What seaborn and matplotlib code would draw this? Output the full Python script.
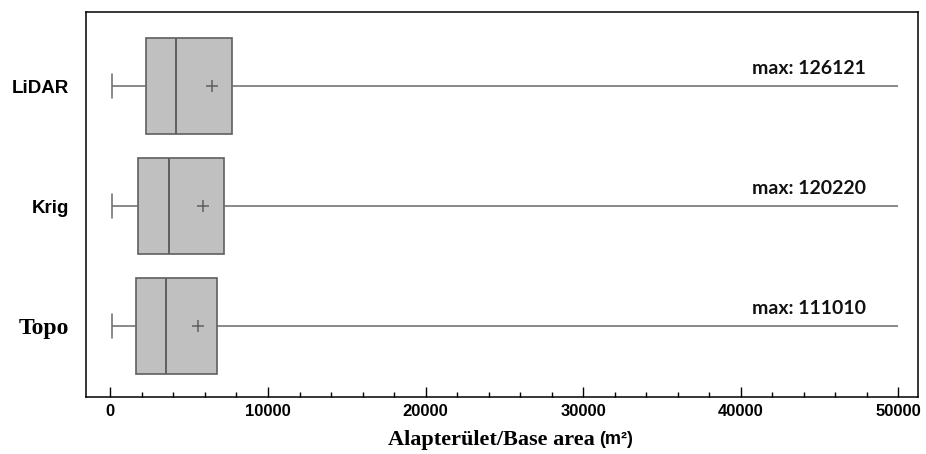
import numpy as np
import matplotlib
matplotlib.use("Agg")
import matplotlib.pyplot as plt
import pandas as pd
import seaborn as sns
from matplotlib.transforms import Bbox, TransformedBbox

sns.set_theme(style="ticks")
plt.rcParams['font.family'] = ['Liberation Sans', 'DejaVu Sans']
plt.rcParams['xtick.direction'] = 'in'

# values (m2)
methods = ['LiDAR', 'Krig', 'Topo']
mins = [100, 100, 100]
q1s = [2250, 1725, 1620]
medians = [4135, 3710, 3500]
q3s = [7730, 7180, 6735]
maxs = [126121, 120220, 111010]
means = [6420, 5870, 5575]

x_show = 50000

rows = []
for m, a, b, c, d, e in zip(methods, mins, q1s, medians, q3s, maxs):
    for v in (a, b, c, d, e):
        rows.append({'method': m, 'area': v})
df = pd.DataFrame(rows)
mean_df = pd.DataFrame({'method': methods, 'area': means})

fig = plt.figure(figsize=(9.26, 4.54), dpi=100)
ax = fig.add_axes([86 / 926, 1 - 397 / 454, 832 / 926, 385 / 454])

edge = '#5f5f5f'
sns.boxplot(data=df, x='area', y='method', order=methods, whis=(0, 100),
            width=0.8, color='#c0c0c0', linewidth=1.2, saturation=1,
            boxprops=dict(facecolor='#c0c0c0', edgecolor=edge),
            medianprops=dict(color=edge, linewidth=1.4),
            whiskerprops=dict(color='#6a6a6a', linewidth=1.1),
            capprops=dict(color='#6a6a6a', linewidth=1.1),
            capwidths=0.2, showfliers=False, ax=ax)

sns.scatterplot(data=mean_df, x='area', y='method', marker='+', s=70,
                color=edge, linewidth=1.1, ax=ax, zorder=5, legend=False)

xlim = (-1550, 51250)
ax.set_xlim(*xlim)
ax.set_ylim(2.59, -0.62)

# whiskers are cut at 50000, the rest is written as text
clip = TransformedBbox(Bbox([[xlim[0], -1], [x_show, 3]]), ax.transData)
for ln in ax.lines:
    ln.set_clip_box(clip)

for i, mx in enumerate(maxs):
    ax.text(47950, i - 0.08, f'max: {mx}', ha='right', va='bottom',
            fontsize=14, fontweight='bold', family=['Lato', 'DejaVu Sans'],
            color='#111111')

ax.set_xticks(np.arange(0, 50001, 10000))
ax.set_xticks(np.arange(0, 50001, 2000), minor=True)
ax.tick_params(axis='x', which='major', bottom=True, top=False,
               direction='in', width=1, color='black', length=7, pad=5,
               labelsize=12, labelcolor='black')
ax.tick_params(axis='x', which='minor', bottom=True, top=False,
               direction='in', width=1, color='black', length=3.5)
ax.tick_params(axis='y', length=0, pad=12)
for lab in ax.get_xticklabels():
    lab.set_fontweight('bold')

ylab_fonts = {'LiDAR': (['Liberation Sans'], 13.5),
              'Krig': (['Liberation Sans'], 13.5),
              'Topo': (['Liberation Serif'], 17)}
for lab in ax.get_yticklabels():
    fam, size = ylab_fonts[lab.get_text()]
    lab.set_family(fam)
    lab.set_fontsize(size)
    lab.set_fontweight('bold')
    lab.set_color('black')

ax.set_ylabel('')
ax.set_xlabel('Alapterület/Base area', family=['Liberation Serif'],
              fontsize=16, fontweight='bold', color='black')
ax.xaxis.set_label_coords(0.487, -0.085)
ax.annotate('(m²)', xy=(1, 0.1), xycoords=ax.xaxis.label, xytext=(3, 0),
            textcoords='offset points', ha='left', va='bottom',
            fontsize=13, fontweight='bold', color='black')

for s in ax.spines.values():
    s.set_color('black')
    s.set_linewidth(1.1)
    s.set_visible(True)

fig.savefig('out.png', dpi=100, facecolor='white')
